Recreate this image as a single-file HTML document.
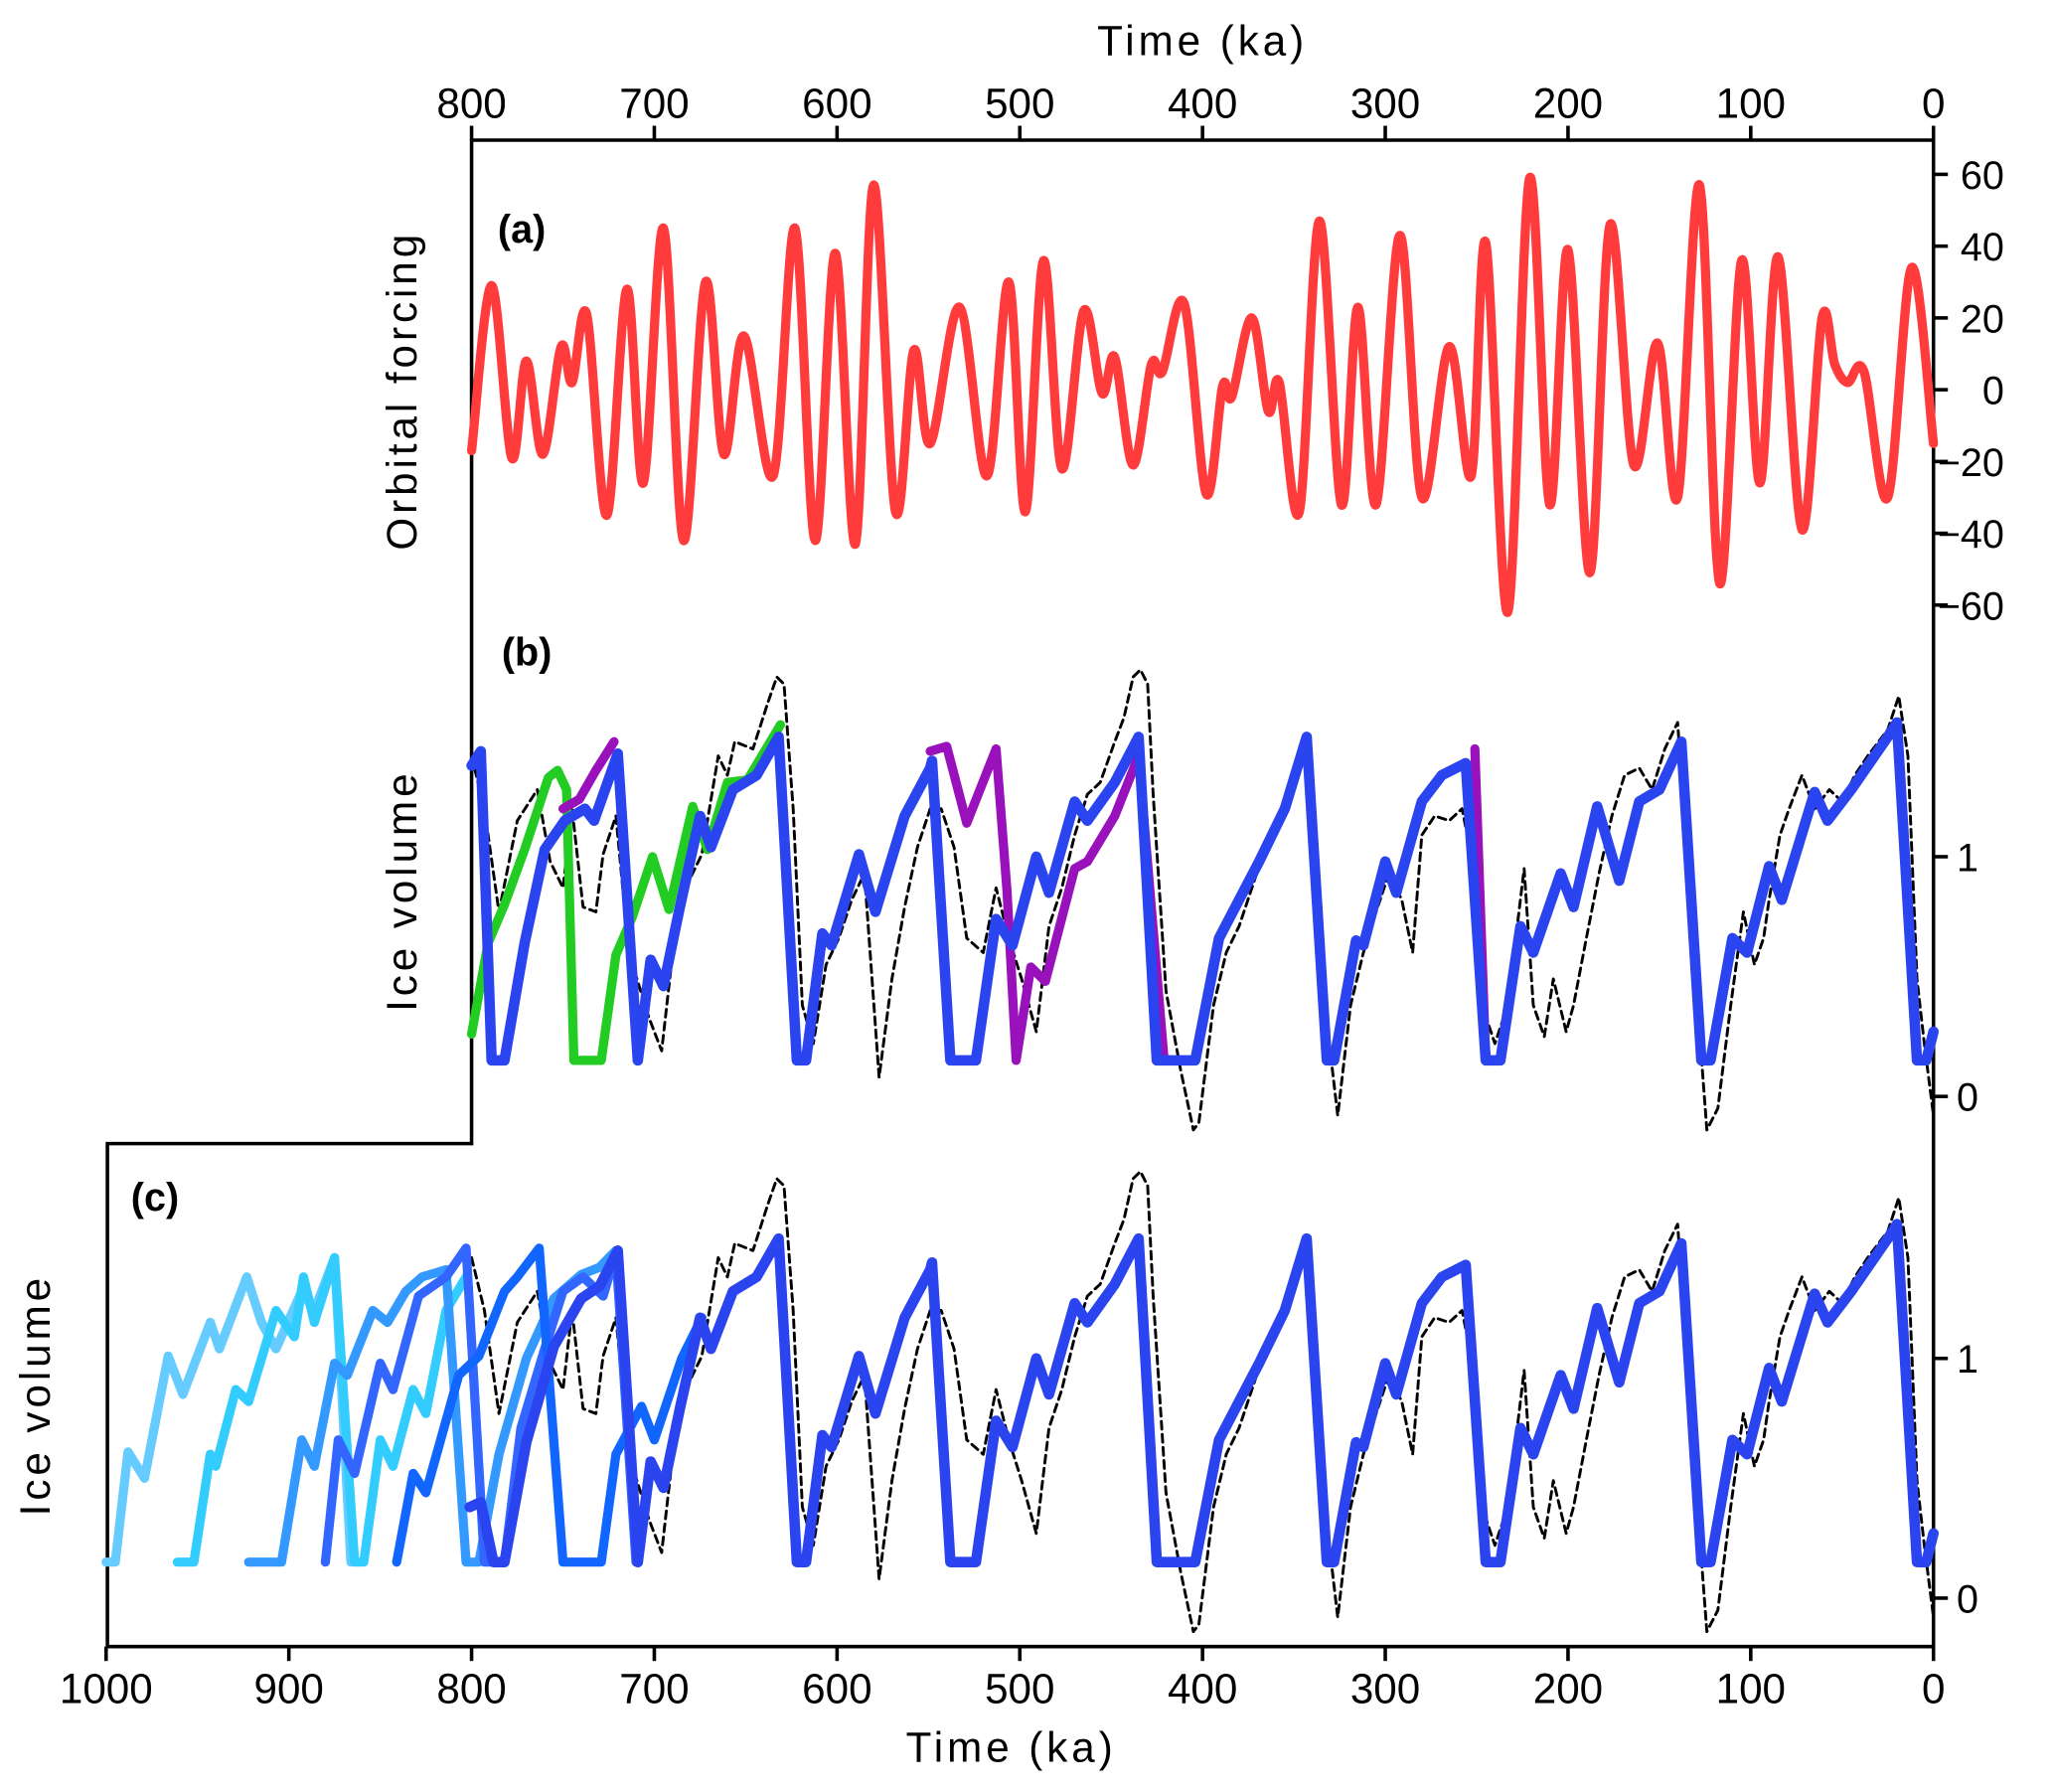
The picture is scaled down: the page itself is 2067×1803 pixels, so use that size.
<!DOCTYPE html>
<html><head><meta charset="utf-8"><style>
html,body{margin:0;padding:0;background:#fff;}
svg{display:block;}
text{font-family:"Liberation Sans",sans-serif;fill:#000;}
</style></head><body>
<svg id="chart" width="2067" height="1803" viewBox="0 0 1568 1368" preserveAspectRatio="none" xmlns="http://www.w3.org/2000/svg">
<g id="axes"></g>
<g id="series"></g>
<g id="labels"></g>
</svg>
<script>
// ---- data ----
const topTicks=[800,700,600,500,400,300,200,100,0];
const bottomTicks=[1000,900,800,700,600,500,400,300,200,100,0];
const forcingTicks=[60,40,20,0,-20,-40,-60];
const iceTicks=[1,0];
const forcingT=[800,789,778,770,761,751,745,737,726,715,706,695,684,672,662,651,635,623,612,601,590,580,568,558,549,533,518,506,497,487,477,465,455,448,438,428,422,410,398,389,384,373,364,358,347,336,324,315,305,292,280,265,253,245,233,221,210,200,188,177,164,151,140,128,117,105,95,85,72,61,54,47,38,25,12,0];
const forcingV=[-17,29,-19,8,-18,12,2,21,-35,28,-26,45,-42,30,-18,15,-24,45,-42,38,-43,57,-34,11,-15,23,-24,30,-34,36,-22,22,-1,9,-21,7,5,24,-29,1,-2,20,-6,2,-34,47,-32,23,-32,43,-30,12,-24,41,-62,59,-32,39,-51,46,-21,13,-30,57,-54,36,-26,37,-39,20,7,2,5,-30,34,-15];
const mainT=[709,702,695,686,675,669,657,644,632,622,617,608,603,588,579,563,549,548,538,524,513,504,491,484,470,463,448,435,425,404,391,380,369,355,343,332,328,316,312,300,294,280,269,256,245,237,226,219,204,197,184,172,161,150,138,127,122,110,102,90,83,65,58,45,25,20,9,4,0];
const mainV=[0.15,0.57,0.46,0.79,1.17,1.04,1.28,1.34,1.5,0.15,0.15,0.68,0.63,1.01,0.77,1.17,1.37,1.4,0.15,0.15,0.74,0.63,1.0,0.85,1.23,1.15,1.31,1.5,0.15,0.15,0.66,0.82,0.98,1.2,1.5,0.15,0.15,0.65,0.63,0.98,0.85,1.23,1.34,1.39,0.15,0.15,0.71,0.6,0.93,0.79,1.21,0.9,1.23,1.28,1.48,0.15,0.15,0.66,0.6,0.96,0.82,1.27,1.15,1.28,1.5,1.56,0.15,0.15,0.27];
const earlyBT=[800,795,789,782,771,760,749,738,733,720,709];
const earlyBV=[1.38,1.44,0.15,0.15,0.64,1.03,1.15,1.2,1.15,1.43,0.15];
const earlyCT=[801,795,788,782,770,755,740,730,720,709];
const earlyCV=[0.38,0.4,0.15,0.15,0.65,1.05,1.25,1.3,1.45,0.15];
const dashT=[800,793,785,775,764,757,750,745,739,732,728,721,714,703,696,689,681,674,665,660,656,646,638,633,629,624,619,613,606,599,592,585,577,570,563,556,549,543,536,529,520,513,506,499,491,484,477,470,463,456,448,443,438,434,430,427,420,412,405,402,394,387,380,369,359,348,341,334,326,319,312,305,298,291,285,280,273,265,258,251,247,240,233,224,219,213,208,201,197,190,183,176,169,161,154,147,140,133,124,118,111,104,98,93,90,84,79,72,65,57,50,43,36,25,19,14,9,5,0];
const dashV=[1.42,1.2,0.77,1.15,1.28,0.98,0.87,1.2,0.79,0.77,1.01,1.17,0.6,0.33,0.19,0.66,0.9,1.01,1.42,1.34,1.48,1.45,1.64,1.75,1.72,1.2,0.38,0.22,0.55,0.66,0.82,0.93,0.08,0.49,0.79,1.04,1.2,1.2,1.04,0.66,0.6,0.87,0.66,0.49,0.27,0.71,0.87,1.09,1.26,1.31,1.48,1.58,1.75,1.78,1.72,1.26,0.44,0.11,-0.14,-0.11,0.38,0.6,0.71,0.96,1.15,1.42,1.42,0.44,-0.08,0.38,0.6,0.77,0.93,0.82,0.6,1.09,1.17,1.15,1.2,0.93,0.38,0.22,0.38,0.95,0.38,0.25,0.49,0.27,0.38,0.66,0.93,1.17,1.34,1.37,1.28,1.45,1.56,0.77,-0.14,-0.05,0.38,0.77,0.55,0.66,0.82,1.09,1.2,1.34,1.2,1.28,1.23,1.34,1.42,1.53,1.67,1.42,0.49,0.22,-0.08];
const greenT=[800,791,782,771,758,753,748,744,729,721,712,701,692,679,671,660,649,631];
const greenV=[0.26,0.64,0.8,1.03,1.33,1.36,1.28,0.15,0.15,0.59,0.75,1.0,0.78,1.21,1.03,1.31,1.32,1.55];
const purple1T=[750,741,732,722];
const purple1V=[1.2,1.24,1.36,1.48];
const purple2T=[549,540,529,513,507,502,494,486,470,463,448,435,421];
const purple2V=[1.44,1.46,1.14,1.45,0.86,0.15,0.54,0.48,0.95,0.98,1.17,1.42,0.15];
const purple3T=[251,245];
const purple3V=[1.45,0.15];
const c1T=[1000,995,988,979,966,958,943,938,923,915,907,893,886,875,866];
const c1V=[0.15,0.15,0.61,0.5,1.01,0.85,1.15,1.04,1.34,1.15,1.04,1.28,1.2,1.42,0.15];
const c2T=[961,952,943,940,929,922,907,897,892,886,875,864,859,850,843,832,825,814,803];
const c2V=[0.15,0.15,0.6,0.55,0.87,0.82,1.2,1.09,1.34,1.15,1.42,0.15,0.15,0.66,0.55,0.87,0.77,1.2,1.34];
const c3T=[922,904,893,886,875,868,854,846,836,827,814,803,796,785,770,755,740,730,721];
const c3V=[0.15,0.15,0.66,0.55,0.98,0.93,1.2,1.15,1.28,1.34,1.37,0.15,0.15,0.6,1.0,1.25,1.35,1.38,1.45];
const c4T=[880,873,864,850,843,829,814,803,793,782,773,760,750,739,728,721,710];
const c4V=[0.15,0.66,0.52,0.98,0.87,1.26,1.34,1.46,0.15,0.15,0.71,1.04,1.28,1.34,1.26,1.44,0.15];
const c5T=[841,832,825,807,796,782,775,763,750,729,721,707,700,685,674];
const c5V=[0.15,0.52,0.44,0.93,1.01,1.28,1.34,1.46,0.15,0.15,0.6,0.8,0.66,1.0,1.17];

// ---- axis functions ----
const NS="http://www.w3.org/2000/svg";
const X=t=>1476-t*1.395;
const YA=v=>297.5-v*2.74;
const YB=v=>837-v*183;
const YC=v=>1220-v*183;

function mk(tag,attrs,parent){const e=document.createElementNS(NS,tag);for(const k in attrs)e.setAttribute(k,attrs[k]);parent.appendChild(e);return e;}
const axes=document.getElementById('axes'),series=document.getElementById('series'),labels=document.getElementById('labels');

function linePath(T,V,Y){return T.map((t,i)=>(i?'L':'M')+X(t).toFixed(1)+','+Y(V[i]).toFixed(1)).join('');}
function smoothPath(T,V,Y){
  const p=T.map((t,i)=>[X(t),Y(V[i])]);let d='M'+p[0][0]+','+p[0][1];
  for(let i=0;i<p.length-1;i++){const p0=p[i-1]||p[i],p1=p[i],p2=p[i+1],p3=p[i+2]||p2;
    d+='C'+(p1[0]+(p2[0]-p0[0])/6).toFixed(1)+','+(p1[1]+(p2[1]-p0[1])/6).toFixed(1)+' '+(p2[0]-(p3[0]-p1[0])/6).toFixed(1)+','+(p2[1]-(p3[1]-p1[1])/6).toFixed(1)+' '+p2[0].toFixed(1)+','+p2[1].toFixed(1);}
  return d;}
function addLine(d,color,w,name,dash){
  const e=mk('path',{d:d,fill:'none',stroke:color,'stroke-width':w,'stroke-linejoin':'round','stroke-linecap':'round'},series);
  if(dash)e.setAttribute('stroke-dasharray',dash);
  
  
  return e;}

const fr=mk('path',{d:'M360,107 L1476,107 L1476,1257 L82,1257 L82,873 L360,873 Z',fill:'none',stroke:'#000','stroke-width':2.7},axes);



function txt(x,y,s,str,anchor,parent,name,extra){const e=mk('text',Object.assign({x:x,y:y,'font-size':s,'text-anchor':anchor},extra||{}),parent);e.textContent=str;
  
  return e;}

topTicks.forEach(t=>{mk('line',{x1:X(t),x2:X(t),y1:107,y2:96,stroke:'#000','stroke-width':2.7},axes);
  txt(X(t),90,32,String(t),'middle',labels,'top-tick-label');});
bottomTicks.forEach(t=>{mk('line',{x1:X(t),x2:X(t),y1:1257,y2:1268,stroke:'#000','stroke-width':2.7},axes);
  txt(X(t),1300,32,String(t),'middle',labels,'bottom-tick-label');});
forcingTicks.forEach(v=>{mk('line',{x1:1476,x2:1487,y1:YA(v),y2:YA(v),stroke:'#000','stroke-width':2.7},axes);
  txt(1530,YA(v)+11,30,(v<0?'\u2212':'')+Math.abs(v),'end',labels,'forcing-tick-label');});
iceTicks.forEach(v=>{[YB,YC].forEach(Y=>{mk('line',{x1:1476,x2:1487,y1:Y(v),y2:Y(v),stroke:'#000','stroke-width':2.7},axes);
  txt(1502,Y(v)+11,30,String(v),'middle',labels,'ice-tick-label');});});

txt(918,42,32,'Time  (ka)','middle',labels,'top-x-axis-title',{'letter-spacing':'3'});
txt(772,1345,32,'Time  (ka)','middle',labels,'bottom-x-axis-title',{'letter-spacing':'3'});
txt(0,0,32,'Orbital  forcing','middle',labels,'y-axis-title-a',{transform:'translate(318,298) rotate(-90)','letter-spacing':'3'});
txt(0,0,32,'Ice  volume','middle',labels,'y-axis-title-b',{transform:'translate(318,680) rotate(-90)','letter-spacing':'3'});
txt(0,0,32,'Ice  volume','middle',labels,'y-axis-title-c',{transform:'translate(38,1065) rotate(-90)','letter-spacing':'3'});
txt(380,185,30,'(a)','start',labels,'panel-label-a',{'font-weight':'bold'});
txt(383,508,30,'(b)','start',labels,'panel-label-b',{'font-weight':'bold'});
txt(100,924,30,'(c)','start',labels,'panel-label-c',{'font-weight':'bold'});

addLine(smoothPath(forcingT,forcingV,YA),'#ff3b3b',7,'orbital-forcing-line');
addLine(linePath(dashT,dashV,YB),'#000',2.2,'observed-ice-volume-b','6,4');
addLine(linePath(greenT,greenV,YB),'#22cc22',7,'green-run-b');
addLine(linePath(purple1T,purple1V,YB),'#9911bb',7,'purple-run-b-1');
addLine(linePath(purple2T,purple2V,YB),'#9911bb',7,'purple-run-b-2');
addLine(linePath(purple3T,purple3V,YB),'#9911bb',7,'purple-run-b-3');
addLine(linePath(earlyBT,earlyBV,YB),'#2a44f0',8,'model-ice-volume-b-early');
addLine(linePath(mainT,mainV,YB),'#2a44f0',8,'model-ice-volume-b');
addLine(linePath(dashT,dashV,YC),'#000',2.2,'observed-ice-volume-c','6,4');
addLine(linePath(c1T,c1V,YC),'#66ccff',7,'run-1000ka-c');
addLine(linePath(c2T,c2V,YC),'#33ccff',7,'run-960ka-c');
addLine(linePath(c3T,c3V,YC),'#3399ff',7,'run-920ka-c');
addLine(linePath(c4T,c4V,YC),'#3366ff',7,'run-880ka-c');
addLine(linePath(c5T,c5V,YC),'#1166ff',7,'run-840ka-c');
addLine(linePath(earlyCT,earlyCV,YC),'#2a44f0',8,'model-ice-volume-c-early');
addLine(linePath(mainT,mainV,YC),'#2a44f0',8,'model-ice-volume-c');
</script>
</body></html>
